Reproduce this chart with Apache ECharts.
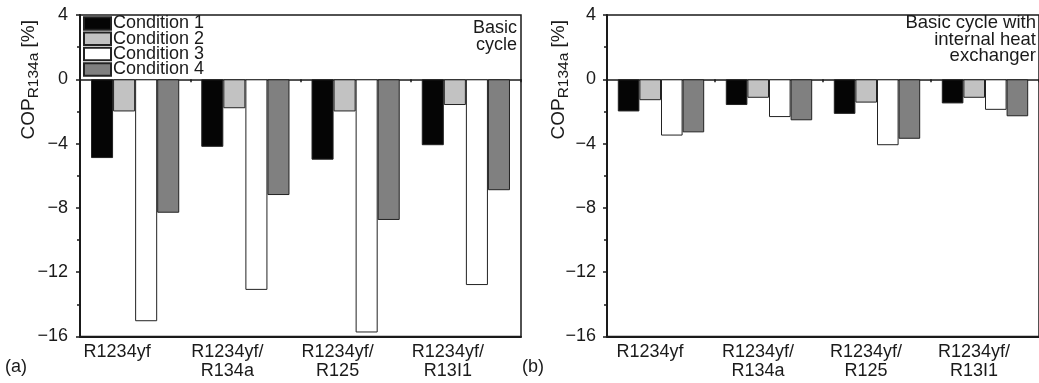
<!DOCTYPE html>
<html>
<head>
<meta charset="utf-8">
<script src="https://cdn.jsdelivr.net/npm/echarts@6/dist/echarts.min.js"></script>
<style>
  html, body { margin: 0; padding: 0; background: #fff; }
  #chart { width: 1039px; height: 383px; }
</style>
</head>
<body>
<div id="chart"></div>
<script>
const categories = ['R1234yf', 'R1234yf/\nR134a', 'R1234yf/\nR125', 'R1234yf/\nR13I1'];
const conditionNames = ['Condition 1', 'Condition 2', 'Condition 3', 'Condition 4'];
const conditionColors = ['#050505', '#c2c2c2', '#ffffff', '#808080'];

// (a) basic cycle, deviation of COP from R134a [%]
const basicCond1 = [-4.9, -4.2, -5.0, -4.1];
const basicCond2 = [-2.0, -1.8, -2.0, -1.6];
const basicCond3 = [-15.05, -13.1, -15.75, -12.8];
const basicCond4 = [-8.3, -7.2, -8.75, -6.9];

// (b) basic cycle with internal heat exchanger
const ihxCond1 = [-2.0, -1.6, -2.15, -1.5];
const ihxCond2 = [-1.3, -1.15, -1.45, -1.15];
const ihxCond3 = [-3.5, -2.35, -4.1, -1.9];
const ihxCond4 = [-3.3, -2.55, -3.7, -2.3];

const yTicks = { min: -16, max: 4, interval: 4 };

const FONT = '"Liberation Sans", Arial, sans-serif';
const INK = '#1a1a1a';

const chart = echarts.init(document.getElementById('chart'));

function yAxisFor(gridIndex) {
  return {
    type: 'value',
    gridIndex,
    min: yTicks.min,
    max: yTicks.max,
    interval: yTicks.interval,
    name: '{a|COP}{b|R134a}{a| [%]}',
    nameLocation: 'middle',
    nameGap: gridIndex === 0 ? 38 : 35,
    nameMoveOverlap: false,
    nameRotate: 90,
    nameTextStyle: {
      padding: [0, 0, 0, 192],
      rich: {
        a: { fontSize: 19, fontFamily: FONT, color: INK },
        b: { fontSize: 15.5, fontFamily: FONT, color: INK, padding: [10, 0, 0, 0] }
      }
    },
    axisLine: { show: true, lineStyle: { color: INK, width: 2 } },
    axisTick: { show: true, length: 4, lineStyle: { color: INK, width: 1.5 } },
    minorTick: { show: true, splitNumber: 2, length: 3, lineStyle: { color: INK, width: 1.5 } },
    splitLine: { show: false },
    axisLabel: {
      fontSize: 18,
      fontFamily: FONT,
      color: INK,
      margin: gridIndex === 0 ? 12 : 11,
      formatter: v => String(v).replace('-', '\u2212')
    }
  };
}

function bottomAxisFor(gridIndex) {
  return {
    type: 'category',
    gridIndex,
    data: categories,
    position: 'bottom',
    axisLine: { onZero: false, lineStyle: { color: INK, width: 2 } },
    axisTick: { show: false },
    axisLabel: {
      fontSize: 18,
      fontFamily: FONT,
      color: INK,
      lineHeight: 19,
      margin: 6,
      padding: [0, gridIndex === 0 ? 36 : 22, 0, 0]
    }
  };
}

function zeroAxisFor(gridIndex) {
  return {
    type: 'category',
    gridIndex,
    data: categories,
    position: 'bottom',
    axisLine: { onZero: true, lineStyle: { color: INK, width: 1.5 } },
    axisTick: { show: true, length: 3, lineStyle: { color: INK, width: 1.5 } },
    axisLabel: { show: false }
  };
}

function barSeries(name, data, i, gridIndex) {
  return {
    name,
    type: 'bar',
    xAxisIndex: gridIndex * 2,
    yAxisIndex: gridIndex,
    data,
    barGap: '0%',
    barCategoryGap: '20%',
    itemStyle: { color: conditionColors[i], borderColor: '#222', borderWidth: 1 },
    emphasis: { disabled: true }
  };
}

const basicSets = [basicCond1, basicCond2, basicCond3, basicCond4];
const ihxSets = [ihxCond1, ihxCond2, ihxCond3, ihxCond4];

const gridBox = { show: true, borderColor: INK, borderWidth: 1.5, backgroundColor: 'transparent' };

chart.setOption({
  animation: false,
  textStyle: { fontFamily: FONT },
  grid: [
    Object.assign({ left: 80, right: 518, top: 15, bottom: 46.5 }, gridBox),
    Object.assign({ left: 607, right: -3, top: 15, bottom: 46.5 }, gridBox)
  ],
  xAxis: [bottomAxisFor(0), zeroAxisFor(0), bottomAxisFor(1), zeroAxisFor(1)],
  yAxis: [yAxisFor(0), yAxisFor(1)],
  legend: {
    data: conditionNames.map(n => ({ name: n, icon: 'rect' })),
    orient: 'vertical',
    left: 83,
    top: 14.5,
    itemWidth: 27,
    itemHeight: 12.5,
    itemGap: -2.7,
    padding: 0,
    selectedMode: false,
    textStyle: { fontSize: 18, fontFamily: FONT, color: INK, padding: [0, 0, 0, -3] }
  },
  series: [
    ...basicSets.map((d, i) => barSeries(conditionNames[i], d, i, 0)),
    ...ihxSets.map((d, i) => barSeries(conditionNames[i], d, i, 1))
  ],
  graphic: [
    {
      type: 'text', x: 517, y: 20,
      style: { text: 'Basic\ncycle', align: 'right', verticalAlign: 'top', fontSize: 18, lineHeight: 17, fontFamily: FONT, fill: INK }
    },
    {
      type: 'text', x: 1036, y: 15,
      style: { text: 'Basic cycle with\ninternal heat\nexchanger', align: 'right', verticalAlign: 'top', fontSize: 18.5, lineHeight: 16.5, fontFamily: FONT, fill: INK }
    },
    {
      type: 'text', x: 5, y: 358,
      style: { text: '(a)', fontSize: 18, fontFamily: FONT, fill: INK }
    },
    {
      type: 'text', x: 522, y: 358,
      style: { text: '(b)', fontSize: 18, fontFamily: FONT, fill: INK }
    }
  ]
});
</script>
</body>
</html>
